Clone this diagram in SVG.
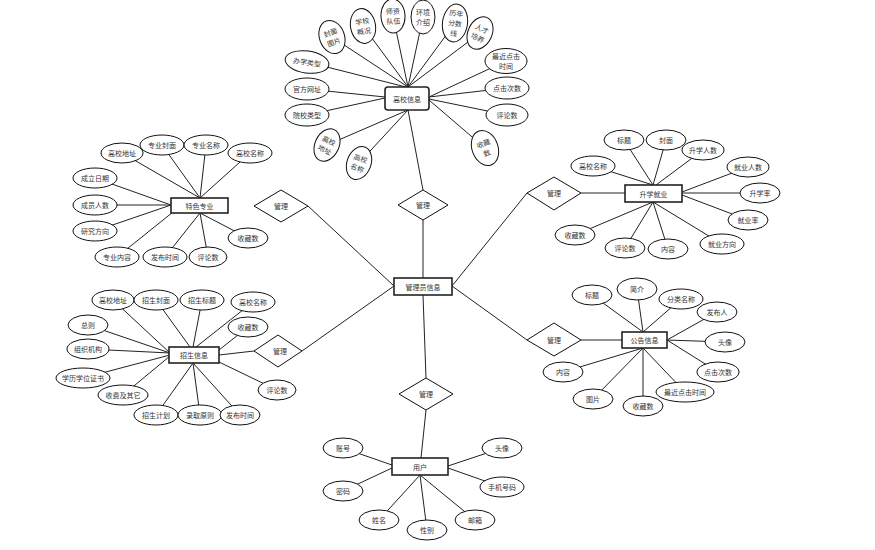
<svg xmlns="http://www.w3.org/2000/svg" width="875" height="550" viewBox="0 0 875 550">
<style>
.e{fill:#fff;stroke:#111;stroke-width:1}
.r{fill:#fff;stroke:#222;stroke-width:1.6}
.d{fill:#fff;stroke:#111;stroke-width:1}
.c line{stroke:#222;stroke-width:1}
text{font-family:"Noto Sans CJK SC","Liberation Serif",serif;font-size:7px;fill:#333;text-anchor:middle;dominant-baseline:central}
</style>
<rect width="875" height="550" fill="#fff"/>
<g id="connectors" class="c">
<!-- top cluster -->
<line x1="332" y1="37" x2="408" y2="87"/>
<line x1="363" y1="26" x2="408" y2="87"/>
<line x1="393" y1="16" x2="408" y2="87"/>
<line x1="423" y1="17" x2="408" y2="87"/>
<line x1="455" y1="23" x2="408" y2="87"/>
<line x1="480" y1="33" x2="408" y2="87"/>
<line x1="307" y1="62" x2="406" y2="87"/>
<line x1="307" y1="89" x2="385" y2="97"/>
<line x1="307" y1="115" x2="385" y2="98"/>
<line x1="327" y1="145" x2="408" y2="110"/>
<line x1="359" y1="163" x2="408" y2="110"/>
<line x1="506" y1="61" x2="429" y2="97"/>
<line x1="507" y1="88" x2="429" y2="97"/>
<line x1="507" y1="115" x2="429" y2="99"/>
<line x1="485" y1="148" x2="429" y2="100"/>
<line x1="408" y1="110" x2="423" y2="190"/>
<!-- admin links -->
<line x1="423" y1="220" x2="423" y2="278"/>
<line x1="308" y1="206" x2="394" y2="286"/>
<line x1="302" y1="351" x2="394" y2="286"/>
<line x1="527" y1="193" x2="452" y2="286"/>
<line x1="527" y1="340" x2="452" y2="286"/>
<line x1="423" y1="295" x2="426" y2="378"/>
<line x1="426" y1="410" x2="421" y2="458"/>
<line x1="254" y1="351" x2="219" y2="355"/>
<line x1="581" y1="193" x2="625" y2="193"/>
<line x1="581" y1="340" x2="622" y2="340"/>
<!-- 特色专业 -->
<line x1="122" y1="153" x2="200" y2="198"/>
<line x1="162" y1="145" x2="200" y2="198"/>
<line x1="206" y1="145" x2="200" y2="198"/>
<line x1="250" y1="153" x2="200" y2="198"/>
<line x1="95" y1="178" x2="171" y2="205"/>
<line x1="95" y1="205" x2="171" y2="205"/>
<line x1="95" y1="231" x2="171" y2="205"/>
<line x1="117" y1="257" x2="173" y2="212"/>
<line x1="165" y1="257" x2="200" y2="213"/>
<line x1="208" y1="257" x2="200" y2="213"/>
<line x1="248" y1="238" x2="200" y2="213"/>
<!-- 招生信息 -->
<line x1="113" y1="300" x2="170" y2="353"/>
<line x1="156" y1="300" x2="190" y2="347"/>
<line x1="202" y1="300" x2="193" y2="347"/>
<line x1="253" y1="302" x2="196" y2="347"/>
<line x1="248" y1="327" x2="219" y2="350"/>
<line x1="88" y1="325" x2="170" y2="353"/>
<line x1="88" y1="349" x2="170" y2="353"/>
<line x1="83" y1="378" x2="170" y2="355"/>
<line x1="123" y1="395" x2="170" y2="356"/>
<line x1="156" y1="415" x2="193" y2="363"/>
<line x1="200" y1="415" x2="193" y2="363"/>
<line x1="240" y1="415" x2="193" y2="363"/>
<line x1="277" y1="390" x2="219" y2="362"/>
<!-- 升学就业 -->
<line x1="624" y1="140" x2="653" y2="185"/>
<line x1="666" y1="140" x2="653" y2="185"/>
<line x1="703" y1="150" x2="656" y2="185"/>
<line x1="593" y1="166" x2="653" y2="185"/>
<line x1="748" y1="167" x2="682" y2="192"/>
<line x1="760" y1="193" x2="682" y2="193"/>
<line x1="748" y1="220" x2="682" y2="195"/>
<line x1="575" y1="235" x2="653" y2="202"/>
<line x1="625" y1="248" x2="653" y2="202"/>
<line x1="668" y1="249" x2="653" y2="202"/>
<line x1="722" y1="244" x2="653" y2="202"/>
<!-- 公告信息 -->
<line x1="592" y1="295" x2="643" y2="332"/>
<line x1="637" y1="289" x2="643" y2="332"/>
<line x1="681" y1="299" x2="643" y2="332"/>
<line x1="717" y1="312" x2="667" y2="340"/>
<line x1="725" y1="342" x2="667" y2="340"/>
<line x1="718" y1="372" x2="667" y2="340"/>
<line x1="685" y1="392" x2="643" y2="348"/>
<line x1="643" y1="406" x2="643" y2="348"/>
<line x1="593" y1="399" x2="643" y2="348"/>
<line x1="563" y1="372" x2="643" y2="348"/>
<!-- 用户 -->
<line x1="343" y1="448" x2="392" y2="465"/>
<line x1="343" y1="491" x2="392" y2="468"/>
<line x1="379" y1="520" x2="420" y2="475"/>
<line x1="427" y1="530" x2="420" y2="475"/>
<line x1="475" y1="520" x2="420" y2="475"/>
<line x1="502" y1="448" x2="448" y2="466"/>
<line x1="502" y1="487" x2="448" y2="468"/>
</g>

<!-- main entities -->
<g id="gxxx"><rect class="r" x="385" y="87" width="44" height="23" rx="3"/><text x="407" y="98.5">高校信息</text></g>
<g id="glyxx"><rect class="r" x="394" y="278" width="58" height="17"/><text x="423" y="286.5">管理员信息</text></g>
<g id="tszy"><rect class="r" x="171" y="198" width="57" height="15"/><text x="199.5" y="205.5">特色专业</text></g>
<g id="zsxx"><rect class="r" x="169" y="347" width="50" height="16"/><text x="194" y="355">招生信息</text></g>
<g id="sxjy"><rect class="r" x="625" y="185" width="57" height="17"/><text x="653.5" y="193.5">升学就业</text></g>
<g id="ggxx"><rect class="r" x="622" y="332" width="45" height="16"/><text x="644.5" y="340">公告信息</text></g>
<g id="yh"><rect class="r" x="392" y="458" width="56" height="17"/><text x="420" y="466.5">用户</text></g>

<!-- diamonds -->
<g id="gl_top"><polygon class="d" points="398,205 423,190 448,205 423,220"/><text x="423" y="205">管理</text></g>
<g id="gl_lt"><polygon class="d" points="254,206 281,190 308,206 281,222"/><text x="281" y="206">管理</text></g>
<g id="gl_lb"><polygon class="d" points="254,351 278,335 302,351 278,367"/><text x="280" y="351">管理</text></g>
<g id="gl_rt"><polygon class="d" points="527,193 554,177 581,193 554,210"/><text x="554" y="193">管理</text></g>
<g id="gl_rb"><polygon class="d" points="527,340 554,323 581,340 554,356"/><text x="554" y="340">管理</text></g>
<g id="gl_bt"><polygon class="d" points="399,394 426,378 453,394 426,410"/><text x="426" y="394">管理</text></g>

<!-- 高校信息 attributes -->
<g id="a_fmtp" transform="translate(332,37) rotate(-20)"><ellipse class="e" rx="12.5" ry="17"/><text y="-5">封面</text><text y="5">图片</text></g>
<g id="a_xxgk" transform="translate(363,26) rotate(-10)"><ellipse class="e" rx="12.5" ry="17.5"/><text y="-5">学校</text><text y="5">概况</text></g>
<g id="a_szdw" transform="translate(393,16) rotate(-3)"><ellipse class="e" rx="12" ry="17"/><text y="-5">师资</text><text y="5">队伍</text></g>
<g id="a_hjjs" transform="translate(423,17)"><ellipse class="e" rx="12" ry="17"/><text y="-5">环境</text><text y="5">介绍</text></g>
<g id="a_lnfsx" transform="translate(455,23) rotate(8)"><ellipse class="e" rx="12.5" ry="19"/><text y="-10">历年</text><text y="0">分数</text><text y="10">线</text></g>
<g id="a_rcpy" transform="translate(480,33) rotate(25)"><ellipse class="e" rx="12" ry="17"/><text y="-5">人才</text><text y="5">培养</text></g>
<g id="a_zjdjsj" transform="translate(506,61)"><ellipse class="e" rx="21" ry="12.5"/><text y="-5">最近点击</text><text y="5">时间</text></g>
<g id="a_djcs" transform="translate(507,88)"><ellipse class="e" rx="22" ry="11"/><text>点击次数</text></g>
<g id="a_pls1" transform="translate(507,115)"><ellipse class="e" rx="21" ry="11"/><text>评论数</text></g>
<g id="a_scs1" transform="translate(485,148) rotate(-20)"><ellipse class="e" rx="13" ry="18"/><text y="-5">收藏</text><text y="5">数</text></g>
<g id="a_gxmc1" transform="translate(359,163) rotate(20)"><ellipse class="e" rx="12" ry="17"/><text y="-5">高校</text><text y="5">名称</text></g>
<g id="a_gxdz1" transform="translate(327,145) rotate(25)"><ellipse class="e" rx="12" ry="17"/><text y="-5">高校</text><text y="5">地址</text></g>
<g id="a_yxlx" transform="translate(307,115)"><ellipse class="e" rx="22" ry="11"/><text>院校类型</text></g>
<g id="a_gfwz" transform="translate(307,89)"><ellipse class="e" rx="22" ry="11"/><text>官方网址</text></g>
<g id="a_bxlx" transform="translate(307,62) rotate(8)"><ellipse class="e" rx="22" ry="11"/><text>办学类型</text></g>

<!-- 特色专业 attributes -->
<g id="b_gxdz" transform="translate(122,153)"><ellipse class="e" rx="21" ry="10"/><text>高校地址</text></g>
<g id="b_zyfm" transform="translate(162,145)"><ellipse class="e" rx="22" ry="10"/><text>专业封面</text></g>
<g id="b_zymc" transform="translate(206,145)"><ellipse class="e" rx="22" ry="10"/><text>专业名称</text></g>
<g id="b_gxmc" transform="translate(250,153)"><ellipse class="e" rx="22" ry="10"/><text>高校名称</text></g>
<g id="b_clrq" transform="translate(95,178)"><ellipse class="e" rx="22" ry="10"/><text>成立日期</text></g>
<g id="b_cyrs" transform="translate(95,205)"><ellipse class="e" rx="22" ry="10"/><text>成员人数</text></g>
<g id="b_yjfx" transform="translate(95,231)"><ellipse class="e" rx="22" ry="10"/><text>研究方向</text></g>
<g id="b_zynr" transform="translate(117,257)"><ellipse class="e" rx="22" ry="10"/><text>专业内容</text></g>
<g id="b_fbsj" transform="translate(165,257)"><ellipse class="e" rx="22" ry="10"/><text>发布时间</text></g>
<g id="b_pls" transform="translate(208,257)"><ellipse class="e" rx="19" ry="10"/><text>评论数</text></g>
<g id="b_scs" transform="translate(248,238)"><ellipse class="e" rx="20" ry="10"/><text>收藏数</text></g>

<!-- 招生信息 attributes -->
<g id="c_gxdz" transform="translate(113,300)"><ellipse class="e" rx="21" ry="10"/><text>高校地址</text></g>
<g id="c_zsfm" transform="translate(156,300)"><ellipse class="e" rx="22" ry="10"/><text>招生封面</text></g>
<g id="c_zsbt" transform="translate(202,300)"><ellipse class="e" rx="22" ry="10"/><text>招生标题</text></g>
<g id="c_gxmc" transform="translate(253,302)"><ellipse class="e" rx="22" ry="10"/><text>高校名称</text></g>
<g id="c_scs" transform="translate(248,327)"><ellipse class="e" rx="20" ry="10"/><text>收藏数</text></g>
<g id="c_zz" transform="translate(88,325)"><ellipse class="e" rx="20" ry="10"/><text>总则</text></g>
<g id="c_zzjg" transform="translate(88,349)"><ellipse class="e" rx="21" ry="10"/><text>组织机构</text></g>
<g id="c_xlxwzs" transform="translate(83,378)"><ellipse class="e" rx="27" ry="10"/><text>学历学位证书</text></g>
<g id="c_sfjqt" transform="translate(123,395)"><ellipse class="e" rx="25" ry="10"/><text>收费及其它</text></g>
<g id="c_zsjh" transform="translate(156,415)"><ellipse class="e" rx="22" ry="10"/><text>招生计划</text></g>
<g id="c_lqyz" transform="translate(200,415)"><ellipse class="e" rx="22" ry="10"/><text>录取原则</text></g>
<g id="c_fbsj" transform="translate(240,415)"><ellipse class="e" rx="20" ry="10"/><text>发布时间</text></g>
<g id="c_pls" transform="translate(277,390)"><ellipse class="e" rx="19" ry="10"/><text>评论数</text></g>

<!-- 升学就业 attributes -->
<g id="d_bt" transform="translate(624,140)"><ellipse class="e" rx="20" ry="10"/><text>标题</text></g>
<g id="d_fm" transform="translate(666,140)"><ellipse class="e" rx="20" ry="10"/><text>封面</text></g>
<g id="d_sxrs" transform="translate(703,150)"><ellipse class="e" rx="21" ry="10"/><text>升学人数</text></g>
<g id="d_gxmc" transform="translate(593,166)"><ellipse class="e" rx="22" ry="10"/><text>高校名称</text></g>
<g id="d_jyrs" transform="translate(748,167)"><ellipse class="e" rx="21" ry="10"/><text>就业人数</text></g>
<g id="d_sxl" transform="translate(760,193)"><ellipse class="e" rx="20" ry="10"/><text>升学率</text></g>
<g id="d_jyl" transform="translate(748,220)"><ellipse class="e" rx="20" ry="10"/><text>就业率</text></g>
<g id="d_scs" transform="translate(575,235)"><ellipse class="e" rx="20" ry="10"/><text>收藏数</text></g>
<g id="d_pls" transform="translate(625,248)"><ellipse class="e" rx="20" ry="10"/><text>评论数</text></g>
<g id="d_nr" transform="translate(668,249)"><ellipse class="e" rx="20" ry="10"/><text>内容</text></g>
<g id="d_jyfx" transform="translate(722,244)"><ellipse class="e" rx="22" ry="10"/><text>就业方向</text></g>

<!-- 公告信息 attributes -->
<g id="e_bt" transform="translate(592,295)"><ellipse class="e" rx="20" ry="10"/><text>标题</text></g>
<g id="e_jj" transform="translate(637,289)"><ellipse class="e" rx="20" ry="11"/><text>简介</text></g>
<g id="e_flmc" transform="translate(681,299)"><ellipse class="e" rx="22" ry="10"/><text>分类名称</text></g>
<g id="e_fbr" transform="translate(717,312)"><ellipse class="e" rx="20" ry="10"/><text>发布人</text></g>
<g id="e_tx" transform="translate(725,342)"><ellipse class="e" rx="20" ry="10"/><text>头像</text></g>
<g id="e_djcs" transform="translate(718,372)"><ellipse class="e" rx="21" ry="10"/><text>点击次数</text></g>
<g id="e_zjdjsj" transform="translate(685,392)"><ellipse class="e" rx="29" ry="10"/><text>最近点击时间</text></g>
<g id="e_scs" transform="translate(643,406)"><ellipse class="e" rx="20" ry="10"/><text>收藏数</text></g>
<g id="e_tp" transform="translate(593,399)"><ellipse class="e" rx="20" ry="10"/><text>图片</text></g>
<g id="e_nr" transform="translate(563,372)"><ellipse class="e" rx="20" ry="10"/><text>内容</text></g>

<!-- 用户 attributes -->
<g id="f_zh" transform="translate(343,448)"><ellipse class="e" rx="20" ry="10"/><text>账号</text></g>
<g id="f_mm" transform="translate(343,491)"><ellipse class="e" rx="20" ry="10"/><text>密码</text></g>
<g id="f_xm" transform="translate(379,520)"><ellipse class="e" rx="20" ry="10"/><text>姓名</text></g>
<g id="f_xb" transform="translate(427,530)"><ellipse class="e" rx="20" ry="10"/><text>性别</text></g>
<g id="f_yx" transform="translate(475,520)"><ellipse class="e" rx="20" ry="10"/><text>邮箱</text></g>
<g id="f_tx" transform="translate(502,448)"><ellipse class="e" rx="20" ry="10"/><text>头像</text></g>
<g id="f_sjhm" transform="translate(502,487)"><ellipse class="e" rx="22" ry="10"/><text>手机号码</text></g>
</svg>
